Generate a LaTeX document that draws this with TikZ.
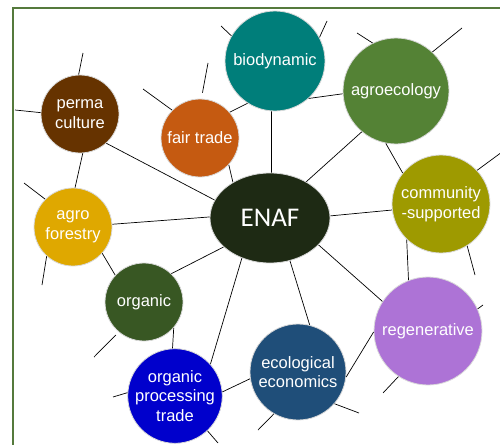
\documentclass[tikz,border=0pt]{standalone}
\usepackage{fontspec}
\setmainfont{Liberation Sans}
\newfontfamily\hubfont{Carlito}
\usetikzlibrary{shapes.geometric}
\definecolor{framegreen}{HTML}{557A3C}
\definecolor{biocol}{HTML}{007E7A}
\definecolor{agecocol}{HTML}{548235}
\definecolor{permacol}{HTML}{663300}
\definecolor{faircol}{HTML}{C55A11}
\definecolor{enafcol}{HTML}{1E2A14}
\definecolor{agforcol}{HTML}{DFA800}
\definecolor{orgcol}{HTML}{385723}
\definecolor{optcol}{HTML}{0000CC}
\definecolor{ecocol}{HTML}{1F4E79}
\definecolor{regencol}{HTML}{AD73D6}
\definecolor{csacol}{HTML}{9E9A00}
\begin{document}
\begin{tikzpicture}[x=1pt, y=-1pt,
  topic/.style={circle, draw=black!15, line width=0.8pt, text=white, inner sep=0pt,
    align=center, font=\fontsize{16.5}{19.5}\selectfont},
  hub/.style={ellipse, draw=black!15, line width=0.8pt, text=white, inner sep=0pt,
    minimum width=120pt, minimum height=90pt, font=\hubfont\fontsize{27}{30}\selectfont},
  link/.style={line width=0.7pt}]
  \useasboundingbox (0,0) rectangle (500,444);
  \draw[framegreen, line width=2pt] (520,8) -- (13,8) -- (13,460);

  \node (ENAF) [hub, fill=enafcol] at (270,218) {ENAF};
  \node (Bio) [topic, fill=biocol, minimum size=100pt] at (275,61) {biodynamic};
  \node (AgEco) [topic, fill=agecocol, minimum size=106pt] at (396,91) {agroecology};
  \node (Perma) [topic, fill=permacol, minimum size=78pt] at (80,114) {perma\\culture};
  \node (Fair) [topic, fill=faircol, minimum size=78pt] at (200,138) {fair trade};
  \node (AgFor) [topic, fill=agforcol, minimum size=78pt] at (73,227) {agro\\forestry};
  \node (Org) [topic, fill=orgcol, minimum size=78pt] at (144,302) {organic};
  \node (OPT) [topic, fill=optcol, minimum size=94pt] at (175,396) {organic\\processing\\trade};
  \node (EcoEco) [topic, fill=ecocol, minimum size=96pt] at (298,372) {ecological\\economics};
  \node (Regen) [topic, fill=regencol, minimum size=108pt] at (428,331) {regenerative};
  \node (CSA) [topic, fill=csacol, minimum size=98pt] at (441,204) {community\\-supported};

  \draw[link] (Perma.-48) -- (ENAF.162);
  \draw[link] (Fair.-43) -- (ENAF.136);
  \draw[link] (Bio.-94) -- (ENAF.88);
  \draw[link] (ENAF.45) -- (AgEco.-130);
  \draw[link] (ENAF.2) -- (CSA.-173);
  \draw[link] (ENAF.-29) -- (Regen.147);
  \draw[link] (ENAF.-65) -- (EcoEco.76);
  \draw[link] (ENAF.-125) -- (OPT.42);
  \draw[link] (ENAF.-148) -- (Org.46);
  \draw[link] (AgFor.4) -- (ENAF.179);
  \draw[link] (Perma.-86) -- (AgFor.87);
  \draw[link] (AgFor.-42) -- (Org.137);
  \draw[link] (Org.-41) -- (OPT.93);
  \draw[link] (OPT.5) -- (EcoEco.-172);
  \draw[link] (Fair.41) -- (Bio.-123);
  \draw[link] (Bio.-48) -- (AgEco.-177);
  \draw[link] (AgEco.-101) -- (CSA.141);
  \draw[link] (CSA.-134) -- (Regen.111);
  \draw[link] (Regen.-179) -- (EcoEco.-6);

  \coordinate (PermaN) at (83,53);
  \coordinate (PermaW) at (15,110);
  \coordinate (FairNW) at (143,89);
  \coordinate (FairN) at (208,63);
  \coordinate (BioW) at (221,26);
  \coordinate (BioE) at (327,21);
  \coordinate (AgEcoNW) at (357,33);
  \coordinate (AgEcoNE) at (462,28);
  \coordinate (CSANE) at (502,152);
  \coordinate (CSASE) at (475,275);
  \coordinate (RegenE) at (483,305);
  \coordinate (RegenSW) at (383,393);
  \coordinate (EcoEcoSE) at (359,413);
  \coordinate (EcoEcoSW) at (258,430);
  \coordinate (OPTW) at (113,397);
  \coordinate (OPTSE) at (218,443);
  \coordinate (OrgSW) at (94,357);
  \coordinate (AgForNW) at (24,183);
  \coordinate (AgForSW) at (42,285);

  \draw[link] (Perma.92) -- (PermaN);
  \draw[link] (Perma.178) -- (PermaW);
  \draw[link] (Fair.135) -- (FairNW);
  \draw[link, shorten <=6pt] (Fair.88) -- (FairN);
  \draw[link] (Bio.150) -- (BioW);
  \draw[link] (Bio.28) -- (BioE);
  \draw[link] (AgEco.116) -- (AgEcoNW);
  \draw[link] (AgEco.47) -- (AgEcoNE);
  \draw[link] (CSA.43) -- (CSANE);
  \draw[link] (CSA.-58) -- (CSASE);
  \draw[link] (Regen.24) -- (RegenE);
  \draw[link] (Regen.-123) -- (RegenSW);
  \draw[link] (EcoEco.-41) -- (EcoEcoSE);
  \draw[link] (EcoEco.-120) -- (EcoEcoSW);
  \draw[link] (OPT.176) -- (OPTW);
  \draw[link] (OPT.-47) -- (OPTSE);
  \draw[link, shorten <=4pt] (Org.-130) -- (OrgSW);
  \draw[link] (AgFor.135) -- (AgForNW);
  \draw[link] (AgFor.-132) -- (AgForSW);
\end{tikzpicture}
\end{document}
